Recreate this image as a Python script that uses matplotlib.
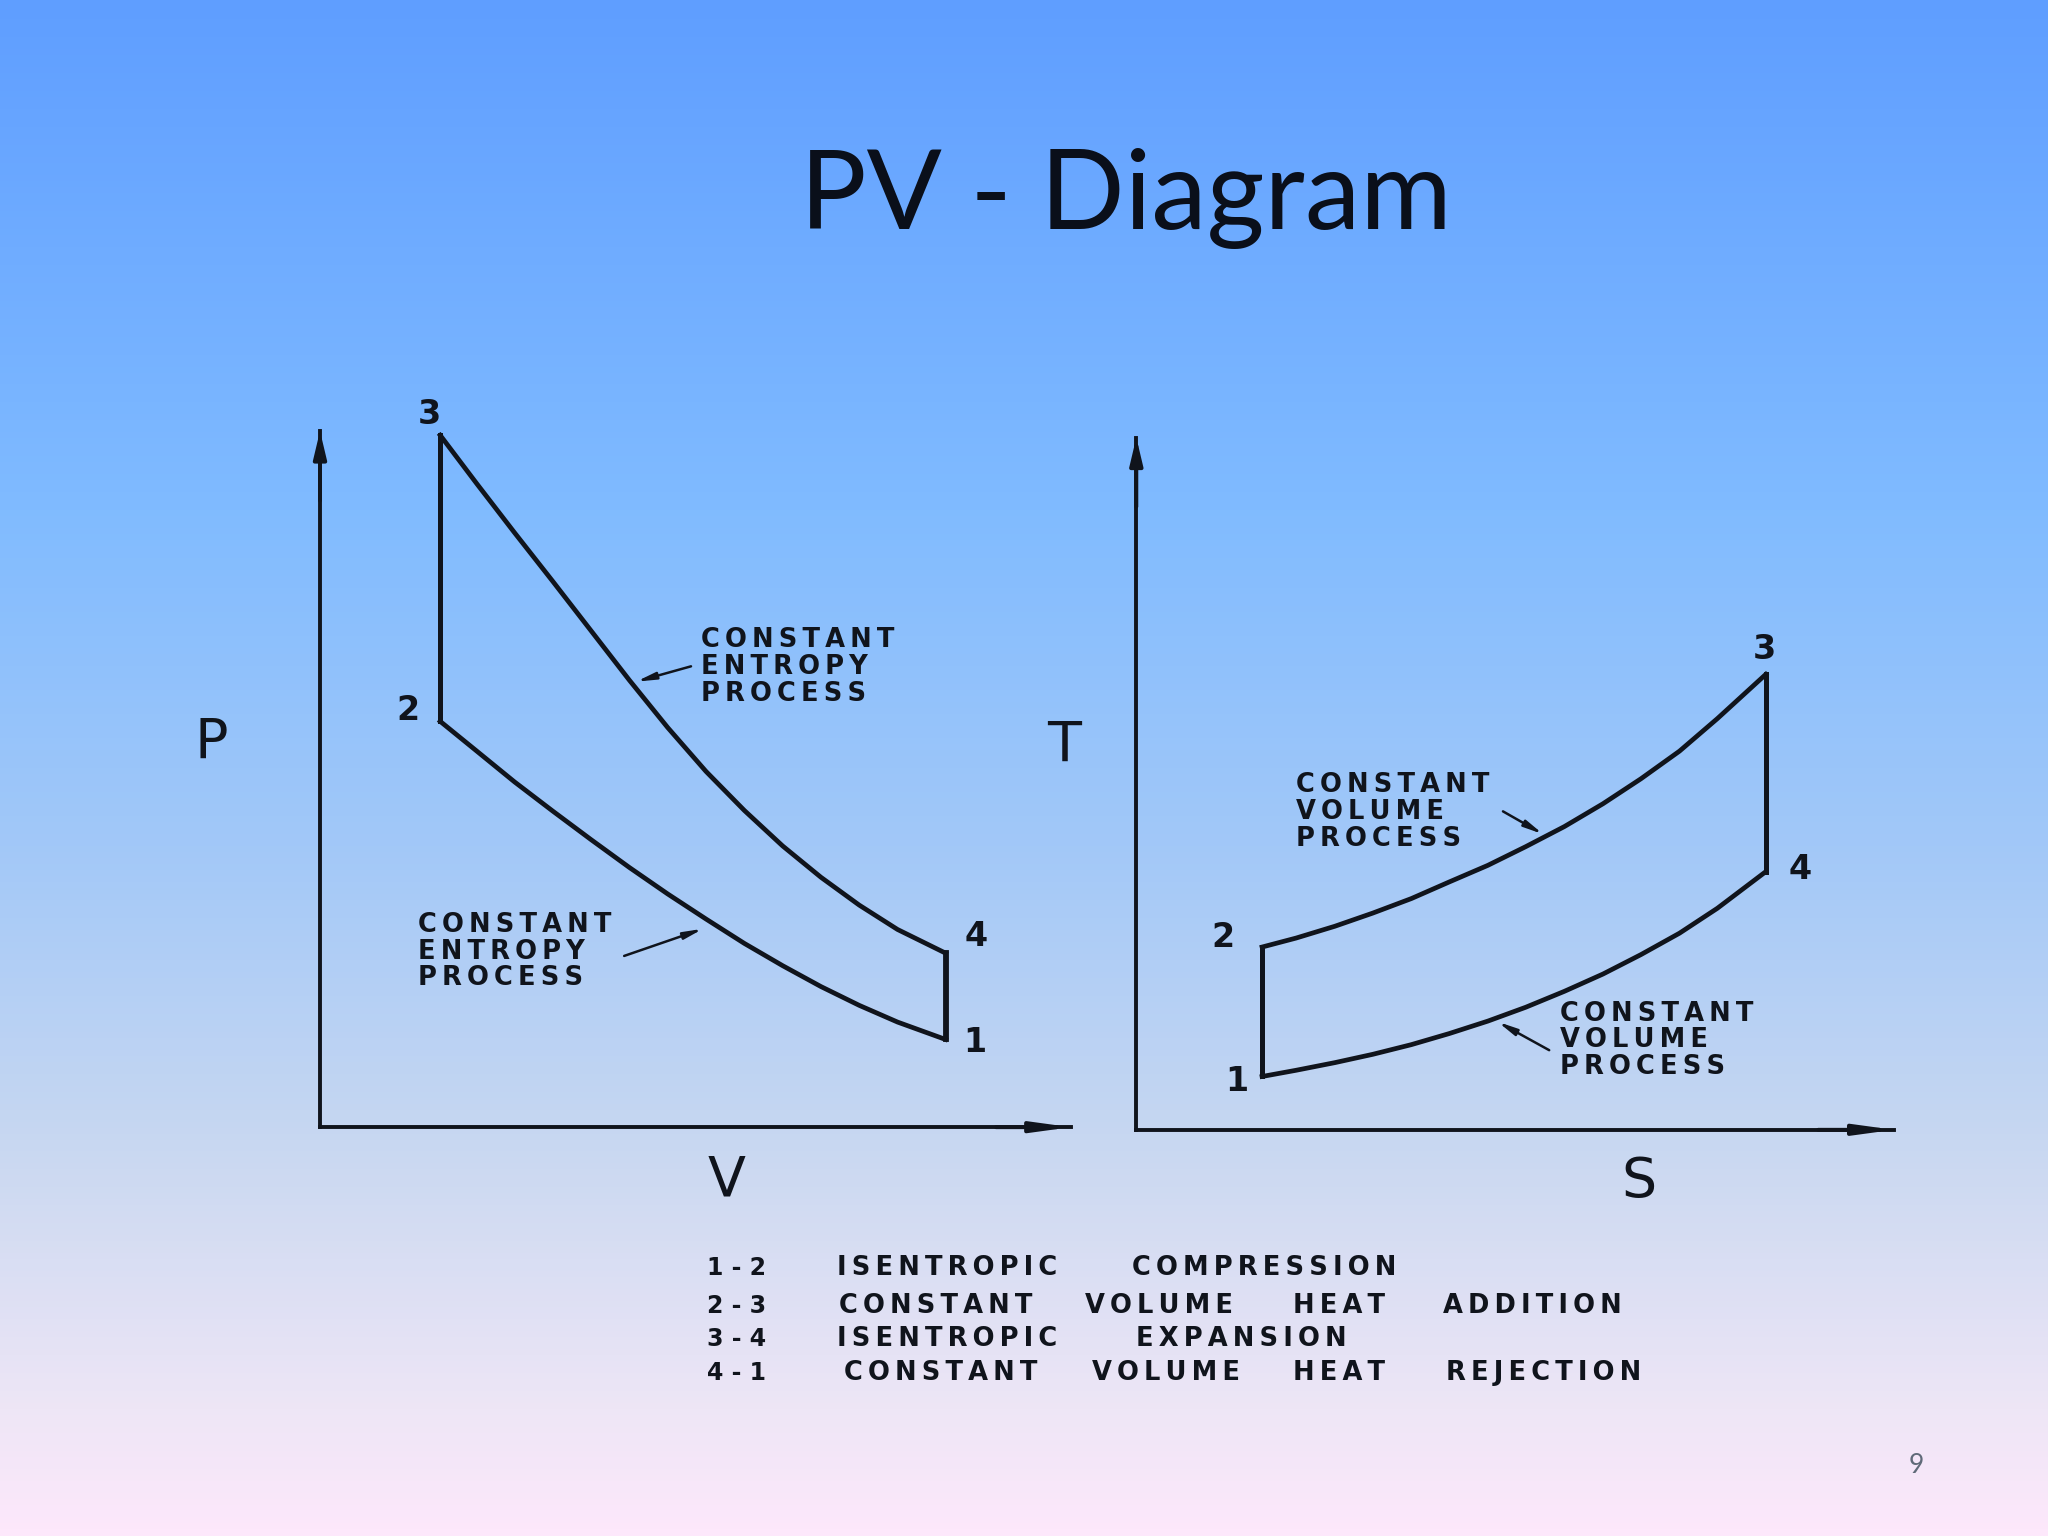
import numpy as np
import matplotlib
matplotlib.use('Agg')
import matplotlib.pyplot as plt
from matplotlib.colors import LinearSegmentedColormap

# PV diagram (axes run 0-100)
pv_volume = [16.0, 20.9, 25.9, 31.0, 36.1, 41.2, 46.3, 51.4, 56.5, 61.6, 66.7, 71.8, 76.9, 83.3]
pv_expansion = [99.4, 92.4, 85.4, 78.4, 71.3, 64.2, 57.4, 51.1, 45.5, 40.4, 35.9, 31.9, 28.4, 25.0]
pv_compression = [58.3, 54.0, 49.6, 45.4, 41.3, 37.3, 33.5, 29.9, 26.4, 23.2, 20.2, 17.5, 15.1, 12.6]

# TS diagram
ts_entropy = [16.6, 21.1, 26.2, 31.2, 36.3, 41.3, 46.4, 51.4, 56.5, 61.6, 66.6, 71.7, 76.7, 83.1]
ts_upper = [26.4, 27.7, 29.4, 31.3, 33.4, 35.8, 38.2, 40.9, 43.8, 47.1, 50.7, 54.7, 59.4, 65.8]
ts_lower = [7.7, 8.6, 9.7, 10.9, 12.3, 13.9, 15.7, 17.7, 20.0, 22.5, 25.3, 28.4, 32.0, 37.3]

legend_steps = ['1 - 2', '2 - 3', '3 - 4', '4 - 1']
legend_rows = [['ISENTROPIC', 'COMPRESSION'],
               ['CONSTANT', 'VOLUME', 'HEAT', 'ADDITION'],
               ['ISENTROPIC', 'EXPANSION'],
               ['CONSTANT', 'VOLUME', 'HEAT', 'REJECTION']]

W, H = 1568.0, 1176.0  # layout measured on a 1568 wide view
LINE = '#10141c'


def fx(x):
    return x / W


def fy(y):
    return 1 - y / H


def spaced(s, gap='\u2009'):
    # the scanned lettering is very wide, open it up a bit
    return gap.join(s)


fig = plt.figure(figsize=(20.48, 15.36), dpi=100)

# slide background
bg = fig.add_axes([0, 0, 1, 1])
cmap = LinearSegmentedColormap.from_list('slide', [
    (0.0, '#5f9eff'), (0.33, '#80bbff'), (0.55, '#a2c8f8'),
    (0.75, '#c9d8f1'), (0.92, '#eee6f6'), (1.0, '#fde8fb')])
bg.imshow(np.linspace(0, 1, 512).reshape(-1, 1), cmap=cmap, aspect='auto')
bg.axis('off')


def make_axes(x0, x1, y0, y1):
    ax = fig.add_axes([fx(x0), fy(y0), fx(x1 - x0), (y0 - y1) / H])
    ax.set_xlim(0, 100)
    ax.set_ylim(0, 100)
    ax.patch.set_alpha(0)
    ax.set_xticks([])
    ax.set_yticks([])
    for side in ['top', 'right']:
        ax.spines[side].set_visible(False)
    for side in ['left', 'bottom']:
        ax.spines[side].set_linewidth(2.8)
        ax.spines[side].set_color(LINE)
    ax.annotate('', xy=(1.0, 0), xytext=(0.9, 0), xycoords='axes fraction',
                arrowprops=dict(arrowstyle='-|>,head_width=0.3,head_length=2.2', color=LINE, lw=2.8, shrinkA=0, shrinkB=0),
                annotation_clip=False)
    ax.annotate('', xy=(0, 1.0), xytext=(0, 0.9), xycoords='axes fraction',
                arrowprops=dict(arrowstyle='-|>,head_width=0.38,head_length=1.6', color=LINE, lw=2.8, shrinkA=0, shrinkB=0),
                annotation_clip=False)
    return ax


def pointer(ax, tip, tail):
    ax.annotate('', xy=tip, xytext=tail,
                arrowprops=dict(arrowstyle='-|>,head_width=0.2,head_length=1.1', color=LINE, lw=1.8, shrinkA=0, shrinkB=0))


# PV cycle
ax1 = make_axes(245, 820, 863, 330)
ax1.plot(pv_volume, pv_expansion, color=LINE, lw=3.4)
ax1.plot(pv_volume, pv_compression, color=LINE, lw=3.4)
ax1.plot([pv_volume[0], pv_volume[0]], [pv_compression[0], pv_expansion[0]], color=LINE, lw=3.6)
ax1.plot([pv_volume[-1], pv_volume[-1]], [pv_compression[-1], pv_expansion[-1]], color=LINE, lw=4.2)
pointer(ax1, (42.1, 64.0), (49.4, 66.2))
pointer(ax1, (51.0, 28.5), (40.5, 24.6))

# TS cycle
ax2 = make_axes(870, 1450, 865, 335)
ax2.plot(ts_entropy, ts_upper, color=LINE, lw=3.4)
ax2.plot(ts_entropy, ts_lower, color=LINE, lw=3.4)
ax2.plot([ts_entropy[0], ts_entropy[0]], [ts_lower[0], ts_upper[0]], color=LINE, lw=3.6)
ax2.plot([ts_entropy[-1], ts_entropy[-1]], [ts_lower[-1], ts_upper[-1]], color=LINE, lw=3.6)
pointer(ax2, (53.7, 42.7), (48.4, 46.0))
pointer(ax2, (47.7, 15.6), (54.5, 11.5))


def label(x, y, s, size, weight='normal', ha='center', color=LINE, family='DejaVu Sans'):
    fig.text(fx(x), fy(y), s, fontsize=size, fontweight=weight, ha=ha, va='center', color=color, family=family)


label(862, 152, 'PV - Diagram', 80, family='Lato', color='#0a0f1a')
label(1467, 1122, '9', 19, family='Lato', color='#5f6a78')

# axis names
label(162, 569, 'P', 40)
label(556, 904, 'V', 40)
label(815, 571, 'T', 40)
label(1255, 905, 'S', 40)

# state numbers
for x, y, s in [(329, 317, '3'), (312, 544, '2'), (747, 717, '4'), (746, 798, '1'),
                (1351, 497, '3'), (936, 718, '2'), (1378, 666, '4'), (947, 828, '1')]:
    label(x, y, s, 24, weight='bold')

# process notes
for x, y, lines in [(537, 490, ['CONSTANT', 'ENTROPY', 'PROCESS']),
                    (320, 708, ['CONSTANT', 'ENTROPY', 'PROCESS']),
                    (992, 601, ['CONSTANT', 'VOLUME', 'PROCESS']),
                    (1194, 776, ['CONSTANT', 'VOLUME', 'PROCESS'])]:
    for i, line in enumerate(lines):
        label(x, y + i * 20.5, spaced(line), 18.5, weight='bold', ha='left')

# legend under the plots
row_y = [971, 1000, 1025, 1051]
col_x = [[641, 867], [642, 831, 990, 1105], [641, 870], [646, 836, 990, 1107]]
for y, step, words, xs in zip(row_y, legend_steps, legend_rows, col_x):
    label(541, y, step, 17, weight='bold', ha='left')
    for x, word in zip(xs, words):
        label(x, y, spaced(word), 18.5, weight='bold', ha='left')

fig.savefig('out.png', dpi=100)
